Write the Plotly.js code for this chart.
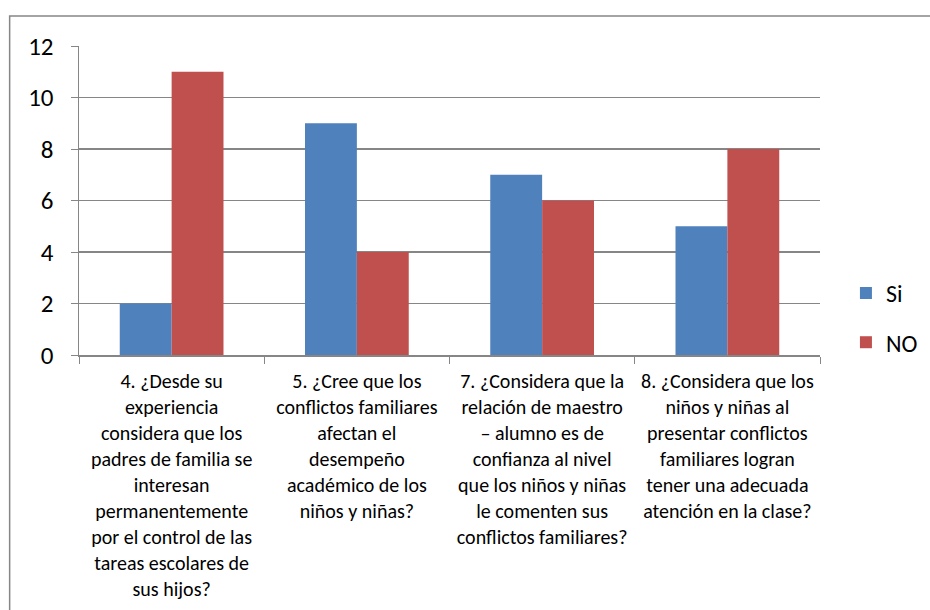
<!DOCTYPE html>
<html>
<head>
<meta charset="utf-8">
<script src="https://cdn.plot.ly/plotly-3.0.1.min.js"></script>
<style>html,body{margin:0;padding:0;background:#fff;}#chart{width:930px;height:610px;}</style>
</head>
<body>
<div id="chart"></div>
<script>
const categories = [
  "4. ¿Desde su<br>experiencia<br>considera que los<br>padres de familia se<br>interesan<br>permanentemente<br>por el control de las<br>tareas escolares de<br>sus hijos?",
  "5. ¿Cree que los<br>conflictos familiares<br>afectan el<br>desempeño<br>académico de los<br>niños y niñas?",
  "7. ¿Considera que la<br>relación de maestro<br>– alumno es de<br>confianza al nivel<br>que los niños y niñas<br>le comenten sus<br>conflictos familiares?",
  "8. ¿Considera que los<br>niños y niñas al<br>presentar conflictos<br>familiares logran<br>tener una adecuada<br>atención en la clase?"
];
const siValues = [2, 9, 7, 5];
const noValues = [11, 4, 6, 8];
const yTicks = [0, 2, 4, 6, 8, 10, 12];

const font = "Carlito, Lato, 'Open Sans', sans-serif";
const traces = [
  {type: 'bar', name: 'Si', x: categories, y: siValues, marker: {color: '#4F81BD'}, legendgroup: 'a'},
  {type: 'bar', name: 'NO', x: categories, y: noValues, marker: {color: '#C0504D'}, legendgroup: 'b'}
];
const layout = {
  width: 930, height: 610,
  margin: {l: 79, r: 110, t: 46, b: 255, autoexpand: false},
  paper_bgcolor: '#fff', plot_bgcolor: '#fff',
  font: {family: font, color: '#000'},
  barmode: 'group', bargap: 0.44, bargroupgap: 0,
  showlegend: true,
  legend: {x: 1.035, y: 0.12, xanchor: 'left', yanchor: 'middle', font: {size: 24, family: font}, tracegroupgap: 15, traceorder: 'grouped', itemwidth: 30},
  xaxis: {
    type: 'category', tickson: 'boundaries', ticks: 'outside', ticklen: 7, tickcolor: '#868686',
    showline: true, linecolor: '#868686', linewidth: 1.5, showgrid: false,
    tickfont: {size: 20, family: font}, ticklabelstandoff: 7, tickangle: 0
  },
  yaxis: {
    range: [0, 12], tickvals: yTicks, ticks: 'outside', ticklen: 7, tickcolor: '#868686',
    showline: true, linecolor: '#868686', linewidth: 1.5,
    showgrid: true, gridcolor: '#868686', gridwidth: 1.5, zeroline: false,
    tickfont: {size: 25, family: font}, ticklabelstandoff: 12
  },
  shapes: [
    {type: 'rect', xref: 'paper', yref: 'paper', x0: -0.0936, x1: 1.2, y0: -1.0, y1: 1.097, line: {color: '#868686', width: 1.5}, fillcolor: 'rgba(0,0,0,0)', layer: 'below'}
  ]
};
Plotly.newPlot('chart', traces, layout, {displayModeBar: false, staticPlot: true});
</script>
</body>
</html>
